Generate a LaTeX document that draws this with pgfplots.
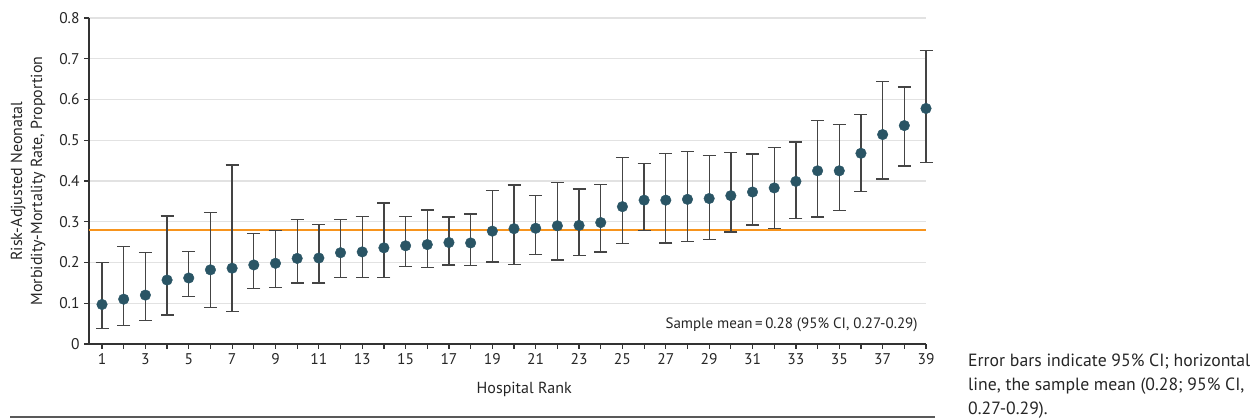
\documentclass[border=0pt]{standalone}
\usepackage{pgfplots}
\pgfplotsset{compat=1.18}
\usepackage{pgfplotstable}
\usepackage{fontspec}
\setmainfont{PT Sans}
\definecolor{ptcol}{HTML}{2A5565}
\definecolor{meancol}{HTML}{F7941D}
\definecolor{barcol}{HTML}{444444}
\definecolor{gridcol}{HTML}{E2E2E2}
\definecolor{axcol}{HTML}{333333}

\pgfplotstableread{
rank y lo hi
1 0.097 0.038 0.200
2 0.110 0.045 0.240
3 0.120 0.058 0.224
4 0.157 0.071 0.314
5 0.162 0.116 0.227
6 0.182 0.090 0.322
7 0.186 0.080 0.439
8 0.194 0.136 0.272
9 0.198 0.138 0.279
10 0.210 0.150 0.305
11 0.211 0.150 0.294
12 0.224 0.163 0.305
13 0.226 0.164 0.313
14 0.236 0.163 0.346
15 0.241 0.190 0.313
16 0.244 0.187 0.329
17 0.249 0.194 0.312
18 0.248 0.192 0.319
19 0.277 0.201 0.377
20 0.283 0.195 0.390
21 0.284 0.219 0.365
22 0.290 0.206 0.397
23 0.291 0.217 0.380
24 0.298 0.226 0.391
25 0.337 0.246 0.457
26 0.353 0.279 0.443
27 0.353 0.248 0.468
28 0.355 0.251 0.473
29 0.357 0.257 0.463
30 0.364 0.275 0.470
31 0.373 0.292 0.466
32 0.383 0.284 0.483
33 0.399 0.308 0.496
34 0.425 0.312 0.549
35 0.425 0.328 0.538
36 0.468 0.374 0.564
37 0.514 0.405 0.645
38 0.536 0.437 0.631
39 0.578 0.446 0.721
}\hospdata

\begin{document}
\begin{tikzpicture}
\path[use as bounding box] (0,0) rectangle (1257pt,419pt);
\begin{axis}[
  at={(89pt,75pt)}, anchor=south west,
  scale only axis, width=837pt, height=326pt,
  xmin=0.4, xmax=39, ymin=0, ymax=0.8,
  axis lines*=left,
  axis line style={draw=axcol, line width=1.3pt, -},
  xtick={1,...,39},
  xticklabels={1,,3,,5,,7,,9,,11,,13,,15,,17,,19,,21,,23,,25,,27,,29,,31,,33,,35,,37,,39},
  ytick={0,0.1,...,0.8},
  yticklabels={0,0.1,0.2,0.3,0.4,0.5,0.6,0.7,0.8},
  tick align=outside, tick pos=left,
  major tick length=5pt,
  tick style={draw=axcol, line width=1.2pt},
  ymajorgrids, grid style={draw=gridcol, line width=1.4pt},
  /pgf/number format/assume math mode=true,
  ticklabel style={font=\fontsize{15.5}{18}\selectfont, text=black!85},
  xticklabel style={yshift=-1pt},
  yticklabel style={xshift=-1pt},
  xlabel={Hospital Rank},
  xlabel style={font=\fontsize{16}{19}\selectfont, text=black!85, at={(axis description cs:0.52,-0.14)}, anchor=center},
  ylabel={Risk-Adjusted Neonatal\\Morbidity-Mortality Rate, Proportion},
  ylabel style={font=\fontsize{16}{20}\selectfont, text=black!85, align=center, at={(axis description cs:-0.0729,0.5)}, anchor=center, rotate=0},
  clip=false,
]
\addplot[meancol, line width=1.8pt, forget plot] coordinates {(0.4,0.28) (39,0.28)};
\addplot[
  only marks, mark=*, mark size=5.3pt,
  mark options={fill=ptcol, draw=ptcol},
  error bars/.cd, y dir=both, y explicit,
  error bar style={draw=barcol, line width=1.3pt},
  error mark options={rotate=90, mark size=6.5pt, line width=1.3pt, draw=barcol},
] table[x=rank, y=y, y error plus expr=\thisrow{hi}-\thisrow{y}, y error minus expr=\thisrow{y}-\thisrow{lo}] {\hospdata};
\node[anchor=east, font=\fontsize{15}{18}\selectfont, text=black!85, inner sep=0pt] at (axis cs:38.62,0.047) {Sample mean\,=\,0.28 (95\% CI, 0.27-0.29)};
\end{axis}
\draw[draw=black!65, line width=1.6pt] (10pt,2pt) -- (935pt,2pt);
\node[anchor=base west, align=left, inner sep=0pt, font=\fontsize{17.7}{24}\selectfont, text=black!85] at (968pt,4pt)
  {Error bars indicate 95\% CI; horizontal\\line, the sample mean (0.28; 95\% CI,\\0.27-0.29).};
\end{tikzpicture}
\end{document}
